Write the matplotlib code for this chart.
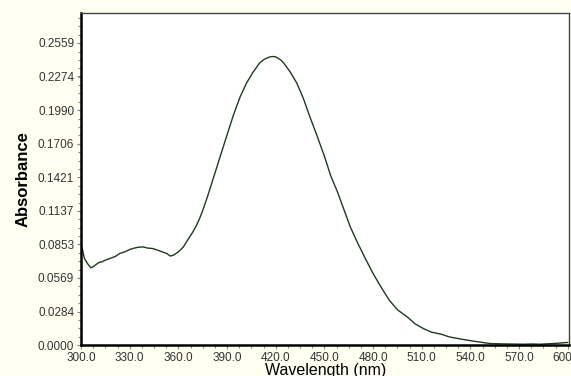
import matplotlib.pyplot as plt
from matplotlib.ticker import AutoMinorLocator

# absorbance spectrum
wavelength = [300, 301, 302, 304, 306, 307, 309, 311, 313, 315, 318, 321, 324,
              327, 330, 333, 335, 338, 341, 344, 347, 350, 353, 355, 357, 360,
              363, 365, 367, 369, 371, 373, 375, 378, 381, 384, 387, 390, 394,
              398, 402, 406, 410, 413, 416, 418, 420, 423, 425, 429, 433, 437,
              441, 445, 450, 454, 458, 462, 466, 470, 475, 480, 485, 490, 495,
              501, 506, 511, 516, 522, 527, 532, 537, 542, 547, 552, 557, 563,
              568, 573, 578, 583, 588, 593, 597, 600]
absorbance = [0.0847, 0.0800, 0.0735, 0.0690, 0.0655, 0.0660, 0.0680, 0.0700,
              0.0706, 0.0720, 0.0735, 0.0750, 0.0777, 0.0790, 0.0810, 0.0822,
              0.0828, 0.0832, 0.0822, 0.0818, 0.0805, 0.0790, 0.0775, 0.0754,
              0.0762, 0.0790, 0.0830, 0.0875, 0.0918, 0.0960, 0.1010, 0.1070,
              0.1140, 0.1260, 0.1390, 0.1520, 0.1650, 0.1780, 0.1950, 0.2100,
              0.2218, 0.2310, 0.2387, 0.2420, 0.2438, 0.2443, 0.2440, 0.2415,
              0.2387, 0.2310, 0.2218, 0.2090, 0.1935, 0.1790, 0.1600, 0.1430,
              0.1300, 0.1150, 0.1000, 0.0880, 0.0740, 0.0607, 0.0490, 0.0381,
              0.0300, 0.0240, 0.0180, 0.0141, 0.0110, 0.0093, 0.0070, 0.0057,
              0.0045, 0.0034, 0.0024, 0.0014, 0.0012, 0.0010, 0.0009, 0.0008,
              0.0010, 0.0008, 0.0012, 0.0015, 0.0020, 0.0023]

x_ticks = [300, 330, 360, 390, 420, 450, 480, 510, 540, 570, 600]
y_ticks = [0.0000, 0.0284, 0.0569, 0.0853, 0.1137, 0.1421, 0.1706, 0.1990,
           0.2274, 0.2559]


def main():
    plt.rcParams['font.family'] = ['Liberation Sans', 'DejaVu Sans']
    fig = plt.figure(figsize=(5.71, 3.76), dpi=100, facecolor='#fffff2')
    ax = fig.add_axes([0.142, 0.082, 0.855, 0.884])
    ax.set_facecolor('white')

    ax.plot(wavelength, absorbance, color='#1f3a1f', lw=1.0)

    ax.set_xlim(300, 601)
    ax.set_ylim(0, 0.2813)
    ax.set_xticks(x_ticks)
    ax.set_xticklabels(['%.1f' % v for v in x_ticks])
    ax.set_yticks(y_ticks)
    ax.set_yticklabels(['%.4f' % v for v in y_ticks])
    ax.xaxis.set_minor_locator(AutoMinorLocator(4))
    ax.yaxis.set_minor_locator(AutoMinorLocator(4))

    ax.tick_params(which='both', direction='out', colors='#888888',
                   labelcolor='#333333', labelsize=8.5, width=0.8)
    ax.tick_params(which='major', length=3, pad=2)
    ax.tick_params(which='minor', length=2)

    for side in ['left', 'bottom']:
        ax.spines[side].set_linewidth(1.8)
        ax.spines[side].set_color('black')
    for side in ['top', 'right']:
        ax.spines[side].set_linewidth(1.0)
        ax.spines[side].set_color('#444444')

    ax.set_xlabel('Wavelength (nm)', fontsize=11.5, labelpad=-1)
    ax.set_ylabel('Absorbance', fontsize=12, fontweight='bold',
                  family=['Liberation Sans Narrow', 'Liberation Sans'],
                  labelpad=5)

    plt.savefig('out.png', dpi=100, facecolor=fig.get_facecolor())


if __name__ == '__main__':
    main()
